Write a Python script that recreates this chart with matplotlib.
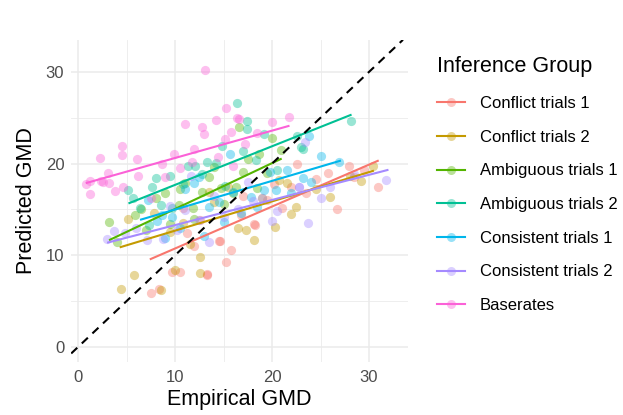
import matplotlib
matplotlib.use("Agg")
import matplotlib.pyplot as plt
from matplotlib.lines import Line2D
from matplotlib.colors import to_rgba

plt.rcParams['font.family'] = ['Liberation Sans', 'DejaVu Sans']

groups = ["Conflict trials 1", "Conflict trials 2", "Ambiguous trials 1",
          "Ambiguous trials 2", "Consistent trials 1", "Consistent trials 2",
          "Baserates"]
colors = ["#F8766D", "#C49A00", "#53B400", "#00C094", "#00B6EB", "#A58AFF", "#FB61D7"]

# empirical GMD (x) and predicted GMD (y)
x_c1 = [7.5, 8.3, 9.7, 10.5, 13.3, 14.6, 15.8, 15.3, 14.5, 18.1, 13.3, 26.7, 30.9, 23.5, 22.6,
        27.9, 25.8, 18.2, 11.2, 12.0, 16.8, 19.5, 21.0, 24.5, 29.5, 20.2, 17.0, 10.8, 12.6, 22.0, 28.5]
y_c1 = [5.9, 6.3, 8.2, 8.2, 7.9, 11.6, 10.6, 9.3, 11.6, 13.4, 8.0, 15.1, 17.5, 16.8, 20.0,
        19.7, 19.0, 13.3, 12.4, 11.0, 14.4, 16.0, 15.2, 18.3, 19.3, 17.8, 16.5, 15.2, 13.8, 17.4, 18.5]
x_c2 = [4.4, 5.8, 8.6, 5.2, 12.6, 12.6, 10.0, 18.1, 17.3, 20.3, 20.7, 29.2, 22.5, 30.4, 9.5,
        11.5, 14.0, 15.5, 16.5, 19.0, 22.0, 24.5, 26.0, 28.0, 7.8, 13.5, 21.5, 10.8]
y_c2 = [6.3, 7.9, 6.2, 14.0, 9.8, 8.1, 8.4, 11.7, 12.8, 13.1, 18.2, 18.1, 15.3, 19.7, 12.5,
        11.2, 15.8, 17.4, 13.0, 16.2, 14.5, 17.2, 16.4, 18.6, 14.6, 16.9, 17.9, 13.5]
x_a1 = [3.2, 5.9, 8.0, 9.0, 10.4, 16.6, 20.9, 17.5, 18.7, 17.0, 12.8, 14.7, 16.3, 11.9, 18.5,
        7.0, 9.5, 11.0, 13.5, 15.0, 6.5, 12.0, 14.0, 19.5, 20.0, 10.5, 4.0, 16.0]
y_a1 = [13.6, 14.4, 16.2, 16.8, 15.5, 24.0, 21.5, 20.5, 21.0, 19.1, 16.9, 17.3, 17.5, 15.2, 17.3,
        12.8, 13.4, 17.9, 18.5, 15.6, 15.0, 14.0, 19.6, 19.0, 22.8, 17.2, 11.5, 16.8]
x_a2 = [16.4, 17.4, 17.4, 19.2, 17.0, 28.1, 23.0, 23.2, 22.6, 5.2, 5.7, 6.4, 7.6, 8.0, 8.6,
        7.3, 9.5, 9.7, 11.3, 12.1, 13.3, 14.2, 18.3, 10.8, 12.8, 15.2, 20.5, 14.8]
y_a2 = [26.6, 24.7, 23.8, 23.2, 21.4, 24.6, 21.8, 21.6, 23.0, 17.1, 16.2, 15.2, 17.5, 18.4, 15.5,
        13.3, 18.6, 15.2, 19.7, 19.7, 20.2, 20.1, 20.4, 17.8, 18.9, 17.6, 19.3, 21.9]
x_s1 = [25.1, 26.9, 23.8, 15.7, 19.2, 20.4, 13.5, 16.8, 23.2, 24.0, 8.7, 8.1, 9.7, 11.0, 12.5,
        14.5, 17.8, 10.5, 13.0, 16.0, 18.5, 21.5, 7.2, 12.0, 15.0, 9.0, 22.0, 19.8]
y_s1 = [20.8, 20.2, 23.0, 21.0, 17.1, 17.1, 15.3, 14.6, 18.4, 18.0, 14.4, 13.7, 14.2, 17.2, 18.5,
        15.8, 16.4, 13.0, 12.1, 16.9, 15.3, 19.3, 16.0, 17.9, 13.6, 11.9, 16.8, 19.1]
x_s2 = [31.8, 23.7, 22.8, 23.4, 3.0, 3.7, 7.1, 8.8, 18.0, 20.5, 15.1, 11.6, 22.8, 10.2, 12.5,
        14.0, 16.5, 17.5, 19.0, 26.0, 28.5, 6.0, 9.5, 13.5, 25.0, 4.8, 20.0, 11.0]
y_s2 = [18.2, 13.5, 17.4, 22.4, 11.8, 12.6, 11.7, 11.8, 15.9, 14.8, 14.2, 18.6, 17.5, 12.8, 13.9,
        16.5, 15.1, 18.0, 16.3, 17.4, 18.9, 13.0, 15.4, 11.5, 16.3, 12.4, 13.7, 14.9]
x_b = [13.1, 2.3, 4.5, 4.5, 6.1, 3.1, 1.2, 0.8, 11.0, 12.8, 13.0, 14.2, 15.3, 15.2, 16.4,
       9.9, 8.7, 6.2, 2.4, 3.2, 4.6, 16.6, 21.8, 15.8, 17.2, 14.4, 16.0, 1.2, 3.8, 2.6,
       10.5, 7.5, 12.0, 18.5, 20.0, 9.0, 11.8]
y_b = [30.2, 20.6, 21.9, 20.9, 20.5, 19.0, 18.1, 17.8, 24.3, 24.0, 23.2, 24.8, 26.1, 22.7, 25.0,
       21.0, 20.0, 18.6, 18.1, 17.9, 17.5, 24.9, 25.1, 23.4, 22.1, 20.7, 19.7, 16.7, 17.0, 18.0,
       19.5, 16.3, 21.6, 23.3, 24.5, 18.5, 20.2]

xs = [x_c1, x_c2, x_a1, x_a2, x_s1, x_s2, x_b]
ys = [y_c1, y_c2, y_a1, y_a2, y_s1, y_s2, y_b]

# fitted lines (start x, start y, end x, end y) per group
fit_x0 = [7.5, 4.4, 3.3, 5.3, 6.5, 3.1, 0.9]
fit_y0 = [9.6, 10.9, 11.7, 15.7, 13.9, 11.4, 17.9]
fit_x1 = [30.9, 30.4, 20.9, 28.1, 27.0, 31.9, 21.7]
fit_y1 = [20.3, 19.2, 20.5, 25.3, 20.3, 19.3, 24.1]

ticks = [0, 10, 20, 30]

fig = plt.figure(figsize=(6.23, 4.15), dpi=100)
ax = fig.add_axes([0.1143, 0.1284, 0.5403, 0.7757])

for i in range(len(groups)):
    ax.scatter(xs[i], ys[i], s=44, color=colors[i], alpha=0.4, linewidths=0, zorder=2)
for i in range(len(groups)):
    ax.plot([fit_x0[i], fit_x1[i]], [fit_y0[i], fit_y1[i]], color=colors[i], lw=1.5, zorder=3)

ax.set_xlim(-0.7, 34.0)
ax.set_ylim(-1.6, 33.5)
ax.axline((0, 0), slope=1, color="black", lw=1.5, ls=(0, (4, 3)), zorder=4)

ax.set_xticks(ticks)
ax.set_yticks(ticks)
ax.set_xticks([5, 15, 25], minor=True)
ax.set_yticks([5, 15, 25], minor=True)
ax.grid(which="major", color="#EBEBEB", lw=1.1)
ax.grid(which="minor", color="#EBEBEB", lw=0.6)
ax.set_axisbelow(True)
for s in ax.spines.values():
    s.set_visible(False)
ax.tick_params(which="both", length=0, labelsize=12, labelcolor="#4D4D4D")
ax.tick_params(axis="x", pad=6)
ax.tick_params(axis="y", pad=5)
ax.set_xlabel("Empirical GMD", fontsize=15.5, labelpad=3)
ax.set_ylabel("Predicted GMD", fontsize=15.5, labelpad=6)

handles = []
for i in range(len(groups)):
    handles.append(Line2D([0], [0], color=colors[i], lw=1.5, marker="o", markersize=6.5,
                          mfc=to_rgba(colors[i], 0.4), mec=to_rgba(colors[i], 0.0)))
leg = fig.legend(handles, groups, loc="upper left", bbox_to_anchor=(0.69, 0.88),
                 frameon=False, fontsize=12, title="Inference Group", title_fontsize=15.5,
                 labelspacing=1.12, handlelength=1.7, handletextpad=0.9, borderaxespad=0)
leg._legend_box.align = "left"

fig.savefig("out.png", dpi=100)
